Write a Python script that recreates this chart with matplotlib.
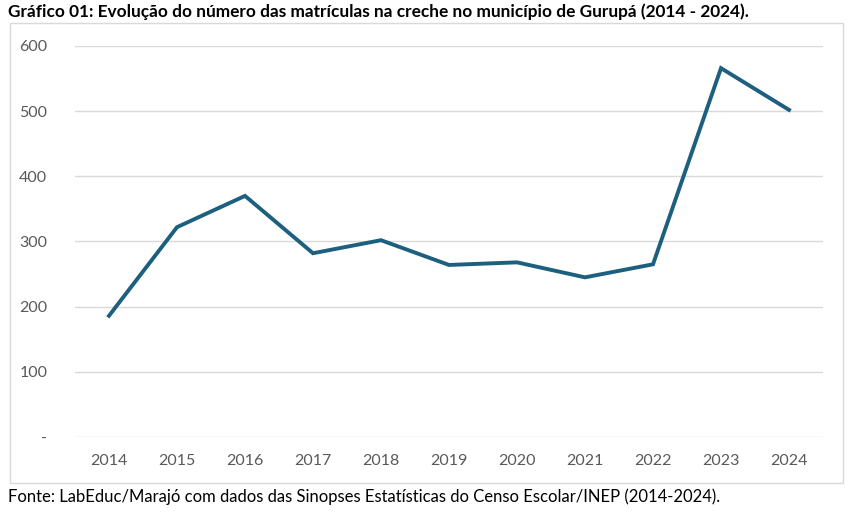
import matplotlib
matplotlib.use("Agg")
import matplotlib.pyplot as plt
from matplotlib.patches import Rectangle

plt.rcParams["font.family"] = ["Lato", "DejaVu Sans"]

# Data
years = ["2014", "2015", "2016", "2017", "2018", "2019", "2020", "2021", "2022", "2023", "2024"]
matriculas = [186, 322, 370, 282, 302, 264, 268, 245, 265, 566, 502]

y_ticks = [0, 100, 200, 300, 400, 500, 600]
y_tick_labels = ["-", "100", "200", "300", "400", "500", "600"]

LINE_COLOR = "#1c5f7f"
TEXT_GRAY = "#595959"
GRID_GRAY = "#d9d9d9"

fig = plt.figure(figsize=(8.5, 5.13), dpi=100)

# outer chart frame
fig.patches.append(Rectangle((10 / 850, 1 - 483 / 513), 833 / 850, 460 / 513,
                             transform=fig.transFigure, fill=False,
                             edgecolor=GRID_GRAY, linewidth=1))

ax = fig.add_axes([75 / 850, 1 - 437 / 513, 748 / 850, 391 / 513])
x = list(range(len(years)))
ax.plot(x, matriculas, color=LINE_COLOR, linewidth=2.8, solid_joinstyle="miter")

ax.set_xlim(-0.5, len(years) - 0.5)
ax.set_ylim(0, 600)
ax.set_xticks(x)
ax.set_xticklabels(years)
ax.set_yticks(y_ticks)
ax.set_yticklabels(y_tick_labels)
ax.grid(axis="y", color=GRID_GRAY, linewidth=1)
ax.set_axisbelow(True)
for s in ax.spines.values():
    s.set_visible(False)
ax.tick_params(length=0, labelsize=11.5, labelcolor=TEXT_GRAY)
ax.tick_params(axis="x", pad=12)
ax.tick_params(axis="y", pad=20)

fig.text(8 / 850, 1 - 12 / 513,
         "Gráfico 01: Evolução do número das matrículas na creche no município de Gurupá (2014 - 2024).",
         fontsize=12.4, fontweight="bold", va="center", ha="left", color="black")
fig.text(8 / 850, 1 - 497 / 513,
         "Fonte: LabEduc/Marajó com dados das Sinopses Estatísticas do Censo Escolar/INEP (2014-2024).",
         fontsize=12, va="center", ha="left", color="black")

fig.savefig("out.png", dpi=100)
